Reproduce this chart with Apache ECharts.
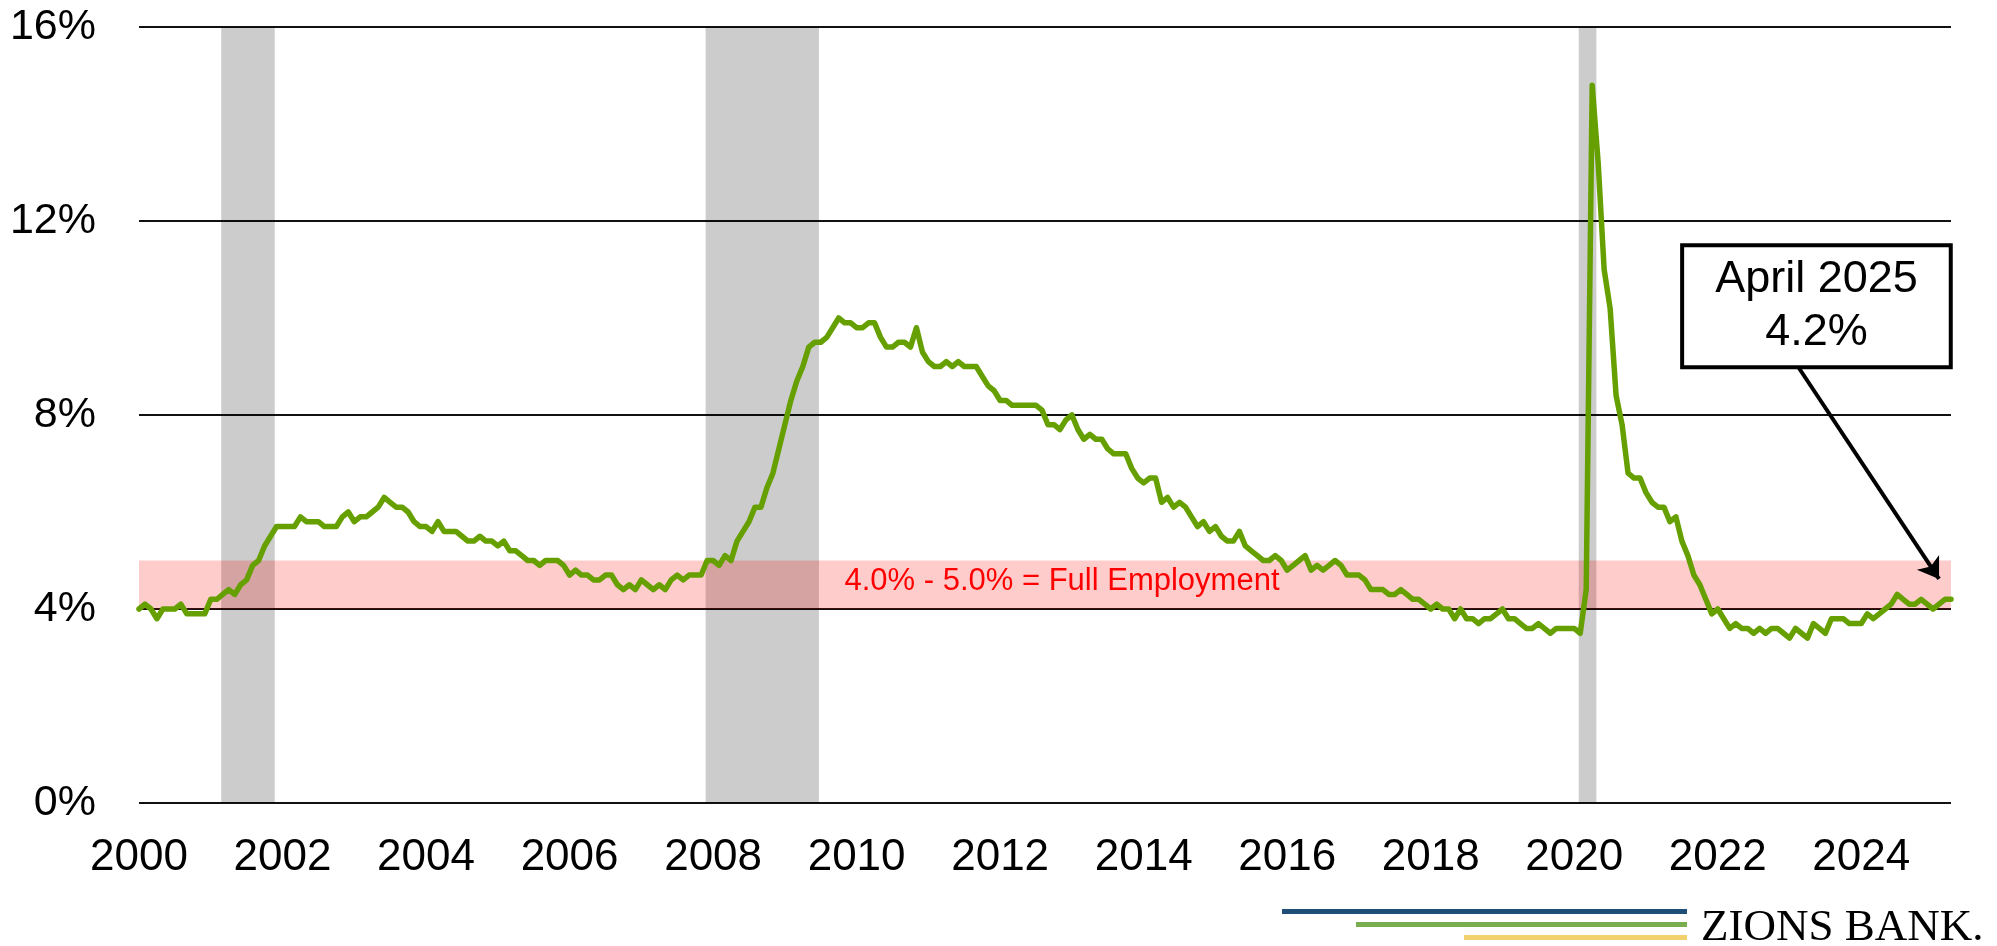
<!DOCTYPE html>
<html>
<head>
<meta charset="utf-8">
<title>Unemployment Rate</title>
<script src="https://cdn.jsdelivr.net/npm/echarts@6/dist/echarts.min.js"></script>
<style>
  html, body { margin: 0; padding: 0; background: #fff; }
  #chart { width: 1997px; height: 946px; }
</style>
</head>
<body>
<div id="chart"></div>
<script>
// Monthly unemployment rate (%), January 2000 through April 2025
const startYear = 2000;
const rate = [
  4.0, 4.1, 4.0, 3.8, 4.0, 4.0, 4.0, 4.1, 3.9, 3.9, 3.9, 3.9,   // 2000
  4.2, 4.2, 4.3, 4.4, 4.3, 4.5, 4.6, 4.9, 5.0, 5.3, 5.5, 5.7,   // 2001
  5.7, 5.7, 5.7, 5.9, 5.8, 5.8, 5.8, 5.7, 5.7, 5.7, 5.9, 6.0,   // 2002
  5.8, 5.9, 5.9, 6.0, 6.1, 6.3, 6.2, 6.1, 6.1, 6.0, 5.8, 5.7,   // 2003
  5.7, 5.6, 5.8, 5.6, 5.6, 5.6, 5.5, 5.4, 5.4, 5.5, 5.4, 5.4,   // 2004
  5.3, 5.4, 5.2, 5.2, 5.1, 5.0, 5.0, 4.9, 5.0, 5.0, 5.0, 4.9,   // 2005
  4.7, 4.8, 4.7, 4.7, 4.6, 4.6, 4.7, 4.7, 4.5, 4.4, 4.5, 4.4,   // 2006
  4.6, 4.5, 4.4, 4.5, 4.4, 4.6, 4.7, 4.6, 4.7, 4.7, 4.7, 5.0,   // 2007
  5.0, 4.9, 5.1, 5.0, 5.4, 5.6, 5.8, 6.1, 6.1, 6.5, 6.8, 7.3,   // 2008
  7.8, 8.3, 8.7, 9.0, 9.4, 9.5, 9.5, 9.6, 9.8, 10.0, 9.9, 9.9,  // 2009
  9.8, 9.8, 9.9, 9.9, 9.6, 9.4, 9.4, 9.5, 9.5, 9.4, 9.8, 9.3,   // 2010
  9.1, 9.0, 9.0, 9.1, 9.0, 9.1, 9.0, 9.0, 9.0, 8.8, 8.6, 8.5,   // 2011
  8.3, 8.3, 8.2, 8.2, 8.2, 8.2, 8.2, 8.1, 7.8, 7.8, 7.7, 7.9,   // 2012
  8.0, 7.7, 7.5, 7.6, 7.5, 7.5, 7.3, 7.2, 7.2, 7.2, 6.9, 6.7,   // 2013
  6.6, 6.7, 6.7, 6.2, 6.3, 6.1, 6.2, 6.1, 5.9, 5.7, 5.8, 5.6,   // 2014
  5.7, 5.5, 5.4, 5.4, 5.6, 5.3, 5.2, 5.1, 5.0, 5.0, 5.1, 5.0,   // 2015
  4.8, 4.9, 5.0, 5.1, 4.8, 4.9, 4.8, 4.9, 5.0, 4.9, 4.7, 4.7,   // 2016
  4.7, 4.6, 4.4, 4.4, 4.4, 4.3, 4.3, 4.4, 4.3, 4.2, 4.2, 4.1,   // 2017
  4.0, 4.1, 4.0, 4.0, 3.8, 4.0, 3.8, 3.8, 3.7, 3.8, 3.8, 3.9,   // 2018
  4.0, 3.8, 3.8, 3.7, 3.6, 3.6, 3.7, 3.6, 3.5, 3.6, 3.6, 3.6,   // 2019
  3.6, 3.5, 4.4, 14.8, 13.2, 11.0, 10.2, 8.4, 7.8, 6.8, 6.7, 6.7, // 2020
  6.4, 6.2, 6.1, 6.1, 5.8, 5.9, 5.4, 5.1, 4.7, 4.5, 4.2, 3.9,   // 2021
  4.0, 3.8, 3.6, 3.7, 3.6, 3.6, 3.5, 3.6, 3.5, 3.6, 3.6, 3.5,   // 2022
  3.4, 3.6, 3.5, 3.4, 3.7, 3.6, 3.5, 3.8, 3.8, 3.8, 3.7, 3.7,   // 2023
  3.7, 3.9, 3.8, 3.9, 4.0, 4.1, 4.3, 4.2, 4.1, 4.1, 4.2, 4.1,   // 2024
  4.0, 4.1, 4.2, 4.2                                            // 2025
];
const yTicks = [0, 4, 8, 12, 16];
const recessions = [['2001-03', '2001-11'], ['2007-12', '2009-06'], ['2020-02', '2020-04']];
const fullEmployment = [4.0, 5.0];
const bandLabel = '4.0% - 5.0% = Full Employment';
const calloutText = 'April 2025\n4.2%';

// month labels "YYYY-MM" for each value
const months = rate.map(function (v, i) {
  const y = startYear + Math.floor(i / 12);
  const m = (i % 12) + 1;
  return y + '-' + (m < 10 ? '0' + m : m);
});
function monthIndex(label) { return months.indexOf(label); }
const last = rate.length - 1;

// callout placement (in axis units: month index, percent)
const calloutCenter = [280.5, 10.24];
const arrowFrom = [277.4, 9.0];
const arrowTo = [301.0, 4.62];

const font = '"Liberation Sans", Arial, sans-serif';
const chart = echarts.init(document.getElementById('chart'));

chart.setOption({
  animation: false,
  backgroundColor: '#fff',
  grid: { left: 139, right: 46, top: 27, bottom: 143, containLabel: false },
  xAxis: {
    type: 'value',
    min: 0,
    max: last,
    interval: 24,
    axisLine: { show: false },
    axisTick: { show: false },
    splitLine: { show: false },
    axisLabel: {
      fontFamily: font,
      fontSize: 44,
      color: '#000',
      margin: 33,
      formatter: function (v) {
        return v % 24 === 0 ? months[v].slice(0, 4) : '';
      }
    }
  },
  yAxis: {
    type: 'value',
    min: yTicks[0],
    max: yTicks[yTicks.length - 1],
    interval: yTicks[1] - yTicks[0],
    axisLine: { show: false },
    axisTick: { show: false },
    splitLine: { lineStyle: { color: '#111', width: 2 } },
    axisLabel: {
      fontFamily: font,
      fontSize: 43,
      color: '#000',
      margin: 43,
      formatter: '{value}%'
    }
  },
  series: [
    {
      // recession shading
      type: 'line',
      data: [],
      z: 1,
      markArea: {
        silent: true,
        itemStyle: { color: 'rgba(0,0,0,0.2)' },
        data: recessions.map(function (r) {
          return [{ xAxis: monthIndex(r[0]) - 0.25 }, { xAxis: monthIndex(r[1]) + 0.7 }];
        })
      }
    },
    {
      name: 'Unemployment Rate',
      type: 'line',
      z: 2,
      showSymbol: false,
      data: rate.map(function (v, i) { return [i, v]; }),
      lineStyle: { color: '#66a000', width: 5.5, cap: 'round', join: 'round' }
    },
    {
      // full employment band, drawn over the line
      type: 'line',
      data: [],
      z: 3,
      markArea: {
        silent: true,
        itemStyle: { color: 'rgba(255,0,0,0.2)' },
        label: {
          show: true,
          position: 'inside',
          offset: [17, -3],
          color: '#ff0000',
          fontFamily: font,
          fontSize: 31
        },
        data: [[
          { name: bandLabel, yAxis: fullEmployment[0], xAxis: 0 },
          { yAxis: fullEmployment[1], xAxis: last }
        ]]
      }
    },
    {
      // callout with arrow
      type: 'line',
      data: [],
      z: 4,
      markLine: {
        silent: true,
        symbol: ['none', 'arrow'],
        symbolSize: 20,
        label: { show: false },
        itemStyle: { color: '#000' },
        lineStyle: { color: '#000', width: 4, type: 'solid', opacity: 1 },
        data: [[{ coord: arrowFrom }, { coord: arrowTo }]]
      },
      markPoint: {
        silent: true,
        symbol: 'rect',
        symbolSize: 1,
        itemStyle: { color: 'rgba(0,0,0,0)' },
        label: {
          show: true,
          position: 'inside',
          formatter: calloutText,
          fontFamily: font,
          fontSize: 45,
          lineHeight: 53,
          color: '#000',
          align: 'center',
          backgroundColor: '#fff',
          borderColor: '#000',
          borderWidth: 4,
          padding: [6, 31]
        },
        data: [{ coord: calloutCenter }]
      }
    }
  ],
  graphic: [
    { type: 'rect', silent: true, shape: { x: 1282, y: 909, width: 405, height: 5 }, style: { fill: '#1f4e79' } },
    { type: 'rect', silent: true, shape: { x: 1356, y: 922, width: 331, height: 5 }, style: { fill: '#78ad50' } },
    { type: 'rect', silent: true, shape: { x: 1464, y: 935, width: 223, height: 5 }, style: { fill: '#f2d06e' } },
    {
      type: 'text', silent: true, x: 1701, y: 906,
      style: { text: 'ZIONS BANK.', font: '45px "Liberation Serif", "Times New Roman", serif', fill: '#000', verticalAlign: 'top' }
    }
  ]
});
</script>
</body>
</html>
